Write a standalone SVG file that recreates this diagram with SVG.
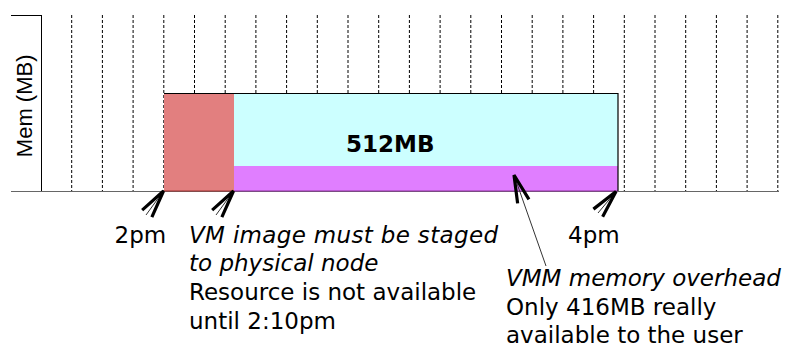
<svg xmlns="http://www.w3.org/2000/svg" width="793" height="347" viewBox="0 0 793 347">
<style>
.grid line{stroke:#000;stroke-width:1;stroke-dasharray:3 2}
.t{font-family:"DejaVu Sans","Verdana",sans-serif;font-size:23px;fill:#000}
.i{font-style:italic}
.b{font-weight:bold}
.shaft{stroke:#333;stroke-width:1;fill:none}
</style>
<defs>
<marker id="chev" markerUnits="userSpaceOnUse" markerWidth="40" markerHeight="40" refX="0" refY="0" orient="auto" viewBox="-35 -20 40 40" overflow="visible">
<path d="M-28,-6 L0,0 L-28,6" fill="none" stroke="#000" stroke-width="3.2" stroke-linejoin="miter"/>
</marker>
</defs>
<rect x="0" y="0" width="793" height="347" fill="#fff"/>
<g id="grid" class="grid">
<line x1="71.7" y1="15" x2="71.7" y2="192"/>
<line x1="102.4" y1="15" x2="102.4" y2="192"/>
<line x1="133.1" y1="15" x2="133.1" y2="192"/>
<line x1="163.8" y1="15" x2="163.8" y2="192"/>
<line x1="194.5" y1="15" x2="194.5" y2="192"/>
<line x1="225.2" y1="15" x2="225.2" y2="192"/>
<line x1="255.9" y1="15" x2="255.9" y2="192"/>
<line x1="286.6" y1="15" x2="286.6" y2="192"/>
<line x1="317.3" y1="15" x2="317.3" y2="192"/>
<line x1="348" y1="15" x2="348" y2="192"/>
<line x1="378.7" y1="15" x2="378.7" y2="192"/>
<line x1="409.4" y1="15" x2="409.4" y2="192"/>
<line x1="440.1" y1="15" x2="440.1" y2="192"/>
<line x1="470.8" y1="15" x2="470.8" y2="192"/>
<line x1="501.5" y1="15" x2="501.5" y2="192"/>
<line x1="532.2" y1="15" x2="532.2" y2="192"/>
<line x1="562.9" y1="15" x2="562.9" y2="192"/>
<line x1="593.6" y1="15" x2="593.6" y2="192"/>
<line x1="624.3" y1="15" x2="624.3" y2="192"/>
<line x1="655" y1="15" x2="655" y2="192"/>
<line x1="685.7" y1="15" x2="685.7" y2="192"/>
<line x1="716.4" y1="15" x2="716.4" y2="192"/>
<line x1="747.1" y1="15" x2="747.1" y2="192"/>
<line x1="777.8" y1="15" x2="777.8" y2="192"/>
</g>
<g id="axes">
<line x1="41.5" y1="15" x2="41.5" y2="192" stroke="#000" stroke-width="1"/>
<line x1="11" y1="15.5" x2="41.5" y2="15.5" stroke="#000" stroke-width="1"/>
<line x1="11" y1="191.5" x2="779" y2="191.5" stroke="#666" stroke-width="1.2"/>
<text transform="translate(31.5,105.8) rotate(-90)" text-anchor="middle" font-family="'Liberation Sans',Arial,sans-serif" font-size="22">Mem (MB)</text>
</g>
<g id="staging">
<rect x="164" y="93" width="70" height="98" fill="#E27F7F"/>
<path d="M164,191 H234" stroke="#A03030" stroke-width="1.2" fill="none"/>
</g>
<g id="allocation">
<rect x="234" y="93" width="384" height="73" fill="#CCFFFF"/>
<text class="t b" x="346" y="152">512MB</text>
</g>
<g id="overhead">
<rect x="234" y="166" width="384" height="25" fill="#E07EFF"/>
<path d="M234,191 H618" stroke="#9030A0" stroke-width="1.2" fill="none"/>
</g>
<path d="M164,93.5 H618 V191" stroke="#000" stroke-width="1.2" fill="none"/>
<g id="connectors">
<line class="shaft" x1="146" y1="215" x2="163.5" y2="191" marker-end="url(#chev)"/>
<line class="shaft" x1="216" y1="215" x2="233.5" y2="191" marker-end="url(#chev)"/>
<line class="shaft" x1="598" y1="213" x2="616" y2="191.5" marker-end="url(#chev)"/>
<line class="shaft" x1="546" y1="266" x2="514" y2="175" marker-end="url(#chev)"/>
</g>
<g id="label-2pm"><text class="t" x="114.5" y="243">2pm</text></g>
<g id="label-4pm"><text class="t" x="568" y="243">4pm</text></g>
<g id="note-staging">
<text class="t i" x="189" y="242.5" textLength="309" lengthAdjust="spacing">VM image must be staged</text>
<text class="t i" x="189" y="271">to physical node</text>
<text class="t" x="189" y="300">Resource is not available</text>
<text class="t" x="189" y="329">until 2:10pm</text>
</g>
<g id="note-overhead">
<text class="t i" x="506" y="286">VMM memory overhead</text>
<text class="t" x="506" y="314.5">Only 416MB really</text>
<text class="t" x="506" y="343">available to the user</text>
</g>
</svg>
